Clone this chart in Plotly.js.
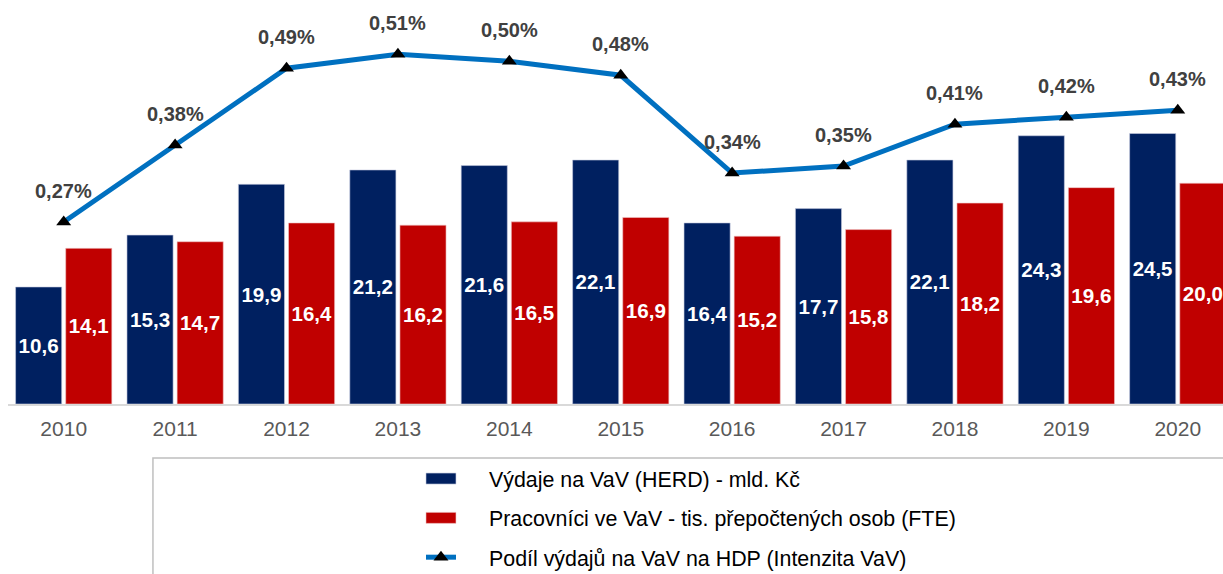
<!DOCTYPE html>
<html>
<head>
<meta charset="utf-8">
<script src="https://cdn.plot.ly/plotly-3.0.1.min.js"></script>
<style>
html,body{margin:0;padding:0;background:#fff;}
#chart{width:1223px;height:574px;}
.legend .scrollbox{clip-path:none !important;}
.legend .legendtext{transform:translateX(28px);}
.legend .widebar{d:path("M15,5.5H-15V-5.5H15Z") !important;}
</style>
</head>
<body>
<div id="chart"></div>
<script>
const years = ['2010','2011','2012','2013','2014','2015','2016','2017','2018','2019','2020'];
const herd = [10.6, 15.3, 19.9, 21.2, 21.6, 22.1, 16.4, 17.7, 22.1, 24.3, 24.5];
const fte = [14.1, 14.7, 16.4, 16.2, 16.5, 16.9, 15.2, 15.8, 18.2, 19.6, 20.0];
const intensity = [0.27, 0.38, 0.49, 0.51, 0.50, 0.48, 0.34, 0.35, 0.41, 0.42, 0.43];
const names = [
  'Výdaje na VaV (HERD) - mld. Kč',
  'Pracovníci ve VaV - tis. přepočtených osob (FTE)',
  'Podíl výdajů na VaV na HDP (Intenzita VaV)'
];

const fmt1 = v => v.toFixed(1).replace('.', ',');
const fmtPct = v => v.toFixed(2).replace('.', ',') + '%';

const barFont = {family: 'Liberation Sans, Arial, sans-serif', size: 21, color: '#ffffff', weight: 'bold'};

const traces = [
  {
    type: 'bar', x: years, y: herd, name: names[0],
    marker: {color: '#002060', line: {color: '#c8cde0', width: 0.6}},
    text: herd.map(fmt1), textposition: 'inside', insidetextanchor: 'middle',
    textangle: 0, textfont: barFont, hoverinfo: 'skip', legendgroup: 'a'
  },
  {
    type: 'bar', x: years, y: fte, name: names[1],
    marker: {color: '#C00000', line: {color: '#f0c8c8', width: 0.6}},
    text: fte.map(fmt1), textposition: 'inside', insidetextanchor: 'middle',
    textangle: 0, textfont: barFont, hoverinfo: 'skip', legendgroup: 'b'
  },
  {
    type: 'scatter', mode: 'lines+markers', x: years, y: intensity, yaxis: 'y2', name: names[2],
    line: {color: '#0070C0', width: 5},
    marker: {symbol: 'triangle-up', size: 13, color: '#000000'},
    hoverinfo: 'skip', legendgroup: 'c'
  }
];

const annotations = years.map((yr, i) => ({
  x: i, y: intensity[i], xref: 'x', yref: 'y2',
  text: fmtPct(intensity[i]), showarrow: false, yshift: 31,
  font: {family: 'Liberation Sans, Arial, sans-serif', size: 20, color: '#404040', weight: 'bold'}
}));

const layout = {
  width: 1223, height: 574,
  margin: {l: 8, r: 0, t: 10, b: 170, autoexpand: false},
  paper_bgcolor: '#ffffff', plot_bgcolor: '#ffffff',
  barmode: 'group', bargap: 0.1, bargroupgap: 0.08,
  xaxis: {
    type: 'category', range: [-0.5, 10.406], automargin: false,
    showline: true, linecolor: '#D9D9D9', linewidth: 2,
    ticks: '', showgrid: false, zeroline: false, tickangle: 0,
    tickfont: {family: 'Liberation Sans, Arial, sans-serif', size: 21, color: '#595959'},
    ticklabelstandoff: 5
  },
  yaxis: {range: [0, 35.69], visible: false, showgrid: false, zeroline: false, fixedrange: true},
  yaxis2: {range: [0.0094, 0.5734], overlaying: 'y', visible: false, showgrid: false, zeroline: false},
  showlegend: true,
  legend: {
    x: 0.3399, xanchor: 'left', y: -0.1374, yanchor: 'top',
    orientation: 'v', tracegroupgap: 8.5, itemwidth: 30,
    font: {family: 'Liberation Sans, Arial, sans-serif', size: 21.4, color: '#000000'},
    bgcolor: 'rgba(0,0,0,0)', borderwidth: 0
  },
  shapes: [{
    type: 'rect', xref: 'paper', yref: 'paper',
    x0: 0.1193, x1: 1.02, y0: -0.137, y1: -0.6,
    line: {color: '#BFBFBF', width: 1.5}, fillcolor: 'rgba(0,0,0,0)'
  }],
  annotations: annotations
};

const barNames = [names[0], names[1]];
function widenLegendBars() {
  document.querySelectorAll('.legend .traces').forEach(function (g) {
    const t = g.querySelector('.legendtext');
    if (t && barNames.indexOf(t.textContent) >= 0) {
      g.querySelectorAll('.legendpoints path').forEach(function (p) {
        p.classList.add('widebar');
        p.setAttribute('d', 'M15,5.5H-15V-5.5H15Z');
      });
    }
  });
}

const gd = document.getElementById('chart');
Plotly.newPlot(gd, traces, layout, {displayModeBar: false, staticPlot: true}).then(widenLegendBars);
</script>
</body>
</html>
